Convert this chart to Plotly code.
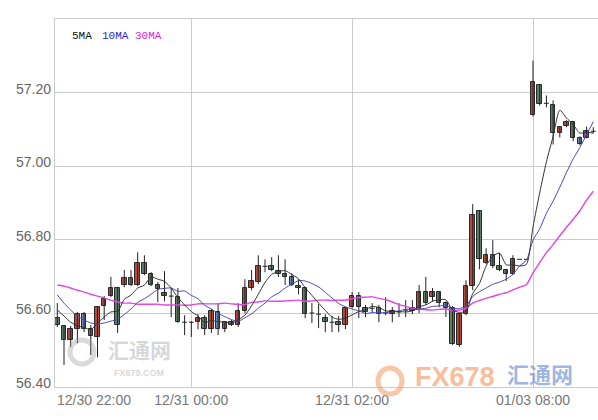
import plotly.graph_objects as go

# ---------------- data ----------------
opens = [56.587, 56.566, 56.528, 56.557, 56.598, 56.557, 56.536, 56.620, 56.647, 56.669,
         56.677, 56.696, 56.677, 56.737, 56.707, 56.677, 56.655, 56.647, 56.644, 56.576,
         56.576, 56.576, 56.587, 56.557, 56.604, 56.557, 56.576, 56.568, 56.606, 56.669,
         56.685, 56.728, 56.728, 56.715, 56.707, 56.699, 56.674, 56.669, 56.601, 56.598,
         56.587, 56.576, 56.576, 56.568, 56.617, 56.647, 56.614, 56.614, 56.614, 56.601,
         56.598, 56.604, 56.609, 56.606, 56.609, 56.658, 56.644, 56.658, 56.628, 56.614,
         56.514, 56.598, 56.674, 56.878, 56.737, 56.758, 56.728, 56.718, 56.707, 56.747,
         56.747, 57.138, 57.220, 57.171, 57.165, 57.089, 57.108, 57.119, 57.078, 57.078,
         57.095]
highs = [56.628, 56.568, 56.566, 56.604, 56.604, 56.568, 56.620, 56.647, 56.699, 56.671,
         56.718, 56.718, 56.766, 56.758, 56.712, 56.685, 56.715, 56.669, 56.669, 56.595,
         56.579, 56.598, 56.595, 56.612, 56.628, 56.576, 56.582, 56.628, 56.693, 56.718,
         56.758, 56.747, 56.753, 56.758, 56.747, 56.709, 56.693, 56.671, 56.628, 56.625,
         56.598, 56.593, 56.593, 56.617, 56.658, 56.658, 56.623, 56.628, 56.623, 56.644,
         56.617, 56.628, 56.636, 56.636, 56.677, 56.699, 56.669, 56.658, 56.633, 56.620,
         56.601, 56.690, 56.897, 56.880, 56.777, 56.799, 56.764, 56.720, 56.758, 56.747,
         56.747, 57.287, 57.222, 57.192, 57.179, 57.106, 57.125, 57.122, 57.081, 57.108,
         57.106]
lows = [56.563, 56.460, 56.509, 56.519, 56.549, 56.487, 56.481, 56.582, 56.644, 56.547,
        56.671, 56.674, 56.674, 56.704, 56.674, 56.631, 56.633, 56.590, 56.574, 56.541,
        56.536, 56.557, 56.541, 56.547, 56.541, 56.549, 56.566, 56.563, 56.601, 56.663,
        56.680, 56.712, 56.715, 56.699, 56.677, 56.674, 56.652, 56.587, 56.574, 56.560,
        56.549, 56.549, 56.549, 56.557, 56.614, 56.587, 56.590, 56.601, 56.576, 56.595,
        56.576, 56.590, 56.590, 56.598, 56.601, 56.623, 56.633, 56.617, 56.590, 56.514,
        56.509, 56.595, 56.663, 56.720, 56.734, 56.723, 56.715, 56.688, 56.704, 56.747,
        56.747, 57.135, 57.165, 57.160, 57.059, 57.078, 57.106, 57.068, 57.057, 57.076,
        57.089]
closes = [56.568, 56.528, 56.557, 56.598, 56.557, 56.538, 56.617, 56.639, 56.669, 56.568,
          56.696, 56.677, 56.737, 56.707, 56.677, 56.666, 56.647, 56.647, 56.576, 56.576,
          56.576, 56.587, 56.557, 56.606, 56.557, 56.576, 56.568, 56.606, 56.669, 56.688,
          56.728, 56.728, 56.718, 56.707, 56.699, 56.677, 56.669, 56.598, 56.601, 56.598,
          56.576, 56.576, 56.568, 56.614, 56.647, 56.617, 56.604, 56.614, 56.598, 56.601,
          56.606, 56.604, 56.609, 56.614, 56.658, 56.628, 56.658, 56.628, 56.614, 56.517,
          56.598, 56.674, 56.867, 56.747, 56.758, 56.728, 56.718, 56.707, 56.747, 56.747,
          56.747, 57.228, 57.168, 57.171, 57.089, 57.106, 57.119, 57.078, 57.059, 57.097,
          57.095]

ma5 = [56.609, 56.593, 56.576, 56.566, 56.562, 56.556, 56.574, 56.590, 56.604, 56.606,
       56.638, 56.650, 56.669, 56.677, 56.699, 56.693, 56.687, 56.669, 56.643, 56.623,
       56.605, 56.593, 56.575, 56.581, 56.577, 56.577, 56.573, 56.583, 56.595, 56.621,
       56.652, 56.684, 56.706, 56.714, 56.716, 56.706, 56.694, 56.670, 56.649, 56.628,
       56.608, 56.590, 56.584, 56.587, 56.596, 56.605, 56.610, 56.619, 56.616, 56.607,
       56.605, 56.605, 56.604, 56.607, 56.618, 56.623, 56.633, 56.637, 56.637, 56.609,
       56.603, 56.606, 56.654, 56.681, 56.729, 56.755, 56.764, 56.732, 56.732, 56.729,
       56.733, 56.835, 56.928, 57.012, 57.081, 57.152, 57.131, 57.113, 57.090, 57.092,
       57.090]
ma10 = [56.650, 56.628, 56.609, 56.593, 56.582, 56.574, 56.571, 56.574, 56.579, 56.584,
        56.597, 56.612, 56.630, 56.640, 56.652, 56.665, 56.668, 56.669, 56.660, 56.661,
        56.649, 56.640, 56.622, 56.612, 56.600, 56.591, 56.583, 56.579, 56.588, 56.599,
        56.614, 56.628, 56.645, 56.655, 56.669, 56.679, 56.689, 56.688, 56.681, 56.672,
        56.657, 56.642, 56.627, 56.618, 56.612, 56.607, 56.600, 56.602, 56.602, 56.602,
        56.605, 56.607, 56.611, 56.611, 56.612, 56.614, 56.619, 56.620, 56.622, 56.614,
        56.613, 56.620, 56.646, 56.659, 56.669, 56.679, 56.685, 56.693, 56.706, 56.729,
        56.744, 56.799, 56.830, 56.872, 56.905, 56.943, 56.983, 57.020, 57.051, 57.086,
        57.121]
ma30 = [56.677, 56.674, 56.669, 56.663, 56.658, 56.652, 56.647, 56.642, 56.636, 56.631,
        56.628, 56.628, 56.625, 56.625, 56.625, 56.625, 56.623, 56.623, 56.623, 56.622,
        56.623, 56.626, 56.626, 56.626, 56.626, 56.628, 56.626, 56.624, 56.624, 56.630,
        56.631, 56.634, 56.633, 56.633, 56.634, 56.635, 56.636, 56.633, 56.634, 56.636,
        56.636, 56.635, 56.636, 56.636, 56.640, 56.643, 56.644, 56.645, 56.641, 56.637,
        56.631, 56.624, 56.619, 56.614, 56.612, 56.610, 56.609, 56.611, 56.612, 56.608,
        56.609, 56.614, 56.628, 56.635, 56.641, 56.646, 56.652, 56.656, 56.664, 56.671,
        56.678, 56.710, 56.738, 56.765, 56.787, 56.811, 56.834, 56.856, 56.879, 56.908,
        56.932]

blue_tinted = [4, 24, 35, 48, 58, 78]
purple_tinted = [53, 79]

x_tick_idx = [20, 44, 71]
x_tick_text = ["12/31 00:00", "12/31 02:00", "01/03 08:00"]
first_x_label = "12/30 22:00"
y_label_vals = [56.40, 56.60, 56.80, 57.00, 57.20]
legend_names = ["5MA", "10MA", "30MA"]

# ---------------- styles ----------------
UP = "#b24a40"
DOWN = "#5f7e66"
BLUE = "#6a8ab4"
PURPLE = "#85508f"
OUTLINE = "#2a2a2a"
GRID = "#cccccc"
MA_COLORS = ["#333333", "#4848b8", "#e048e0"]
LEG_COLORS = ["#111111", "#2a2ad0", "#e020e0"]

W, H = 598, 420
ML, MR, MT, MB = 55, 0, 19, 33
PW, PH = W - ML - MR, H - MT - MB


def px(xp):
    return (xp - ML) / PW


def py(yp):
    return (H - MB - yp) / PH


n = len(opens)
idx = list(range(n))

# wicks + doji ticks
wx, wy = [], []
half = 0.36
for i in idx:
    wx += [i, i, None]
    wy += [lows[i], highs[i], None]
    if opens[i] == closes[i]:
        wx += [i - half, i + half, None]
        wy += [opens[i], opens[i], None]

bx, base, hgt, cols = [], [], [], []
for i in idx:
    if opens[i] == closes[i]:
        continue
    bx.append(i)
    base.append(min(opens[i], closes[i]))
    hgt.append(abs(closes[i] - opens[i]))
    if i in blue_tinted:
        cols.append(BLUE)
    elif i in purple_tinted:
        cols.append(PURPLE)
    else:
        cols.append(UP if closes[i] > opens[i] else DOWN)

fig = go.Figure()
fig.add_trace(go.Scatter(x=wx, y=wy, mode="lines",
                         line=dict(color="#222222", width=1), hoverinfo="skip"))
fig.add_trace(go.Bar(x=bx, y=hgt, base=base, width=0.68,
                     marker=dict(color=cols, line=dict(color=OUTLINE, width=1))))
for vals, c, w in [(ma30, MA_COLORS[2], 1.4), (ma10, MA_COLORS[1], 1.0), (ma5, MA_COLORS[0], 1.0)]:
    fig.add_trace(go.Scatter(x=idx, y=vals, mode="lines",
                             line=dict(color=c, width=w, shape="spline", smoothing=0.7)))

ann = []
for v in y_label_vals:
    ann.append(dict(text=f"{v:.2f}", x=0, xref="paper", xanchor="right", xshift=-2,
                    y=v, yref="y", yanchor="middle", yshift=4, showarrow=False,
                    font=dict(family="Liberation Sans, Arial", size=14, color="#666666")))
ann.append(dict(text=first_x_label, x=0, xref="paper", xanchor="left",
                y=0, yref="paper", yanchor="top", yshift=-3, showarrow=False,
                font=dict(family="Liberation Sans, Arial", size=14, color="#777777")))
for name, col, xl in zip(legend_names, LEG_COLORS, [70, 100, 133]):
    ann.append(dict(text=name, x=px(xl), xref="paper", xanchor="left",
                    y=py(36), yref="paper", yanchor="middle", showarrow=False,
                    font=dict(family="Liberation Mono, Courier New", size=11, color=col)))

# watermarks
def wm(text, xc, yc, family, size, color):
    return dict(text=text, x=px(xc), xref="paper", xanchor="center",
                y=py(yc), yref="paper", yanchor="middle", showarrow=False,
                font=dict(family=family, size=size, color=color))


ann.append(wm("<b>汇通网</b>", 139, 349, "Noto Sans CJK SC", 21, "rgba(140,140,140,0.35)"))
ann.append(wm("<b>FX678.COM</b>", 139, 373, "Liberation Sans", 9, "rgba(140,140,140,0.35)"))
ann.append(wm("<b>FX678</b>", 455, 377, "Liberation Sans", 27, "rgba(246,160,110,0.7)"))
ann.append(wm("<b>汇通网</b>", 540, 373, "Noto Sans CJK SC", 22, "rgba(90,135,205,0.6)"))

shapes = [
    dict(type="circle", xref="paper", yref="paper",
         x0=px(70), x1=px(94), y0=py(364), y1=py(340),
         line=dict(color="rgba(150,150,150,0.35)", width=5)),
    dict(type="circle", xref="paper", yref="paper",
         x0=px(378), x1=px(402), y0=py(394), y1=py(368),
         line=dict(color="rgba(246,160,110,0.6)", width=5)),
]

fig.update_layout(
    width=W, height=H,
    margin=dict(l=ML, r=MR, t=MT, b=MB),
    plot_bgcolor="white", paper_bgcolor="white",
    showlegend=False, barmode="overlay", bargap=0,
    annotations=ann, shapes=shapes,
    xaxis=dict(range=[-0.343, 80.70], tickvals=x_tick_idx, ticktext=x_tick_text,
               showgrid=True, gridcolor=GRID, gridwidth=1, zeroline=False,
               showline=True, linecolor=GRID, linewidth=1, mirror=True, ticks="",
               tickfont=dict(family="Liberation Sans, Arial", size=14, color="#777777")),
    yaxis=dict(range=[56.40, 57.40], tickvals=[56.6, 56.8, 57.0, 57.2], showticklabels=False,
               showgrid=True, gridcolor=GRID, gridwidth=1, zeroline=False,
               showline=True, linecolor=GRID, linewidth=1, mirror=False, ticks=""),
)

fig.write_html("out.html", config={"displayModeBar": False},
               post_script="document.body.style.margin='0px';document.body.style.overflow='hidden';")
